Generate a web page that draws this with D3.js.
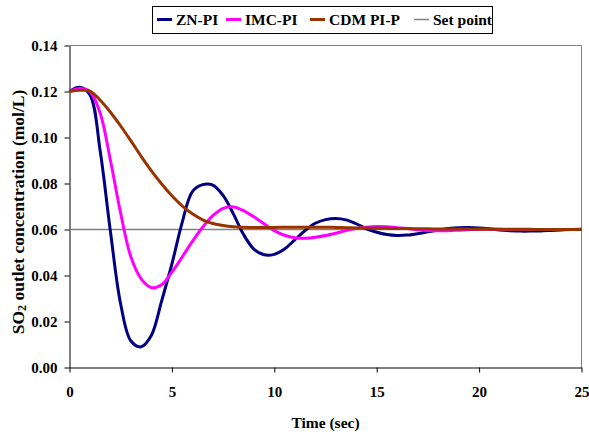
<!DOCTYPE html>
<html>
<head>
<meta charset="utf-8">
<script src="https://cdn.jsdelivr.net/npm/d3@7/dist/d3.min.js"></script>
<style>
	html, body { margin: 0; padding: 0; background: #fff; }
	svg { display: block; }
</style>
</head>
<body>
<div id="chart"></div>
<script>
// time samples (sec)
let time = [0, 0.5, 1, 1.5, 2, 2.5, 3, 3.5, 4, 4.5, 5, 5.5, 6, 6.5, 7, 7.5, 8, 8.5, 9, 9.5,
	10, 10.5, 11, 11.5, 12, 12.5, 13, 13.5, 14, 14.5, 15, 15.5, 16, 16.5, 17, 17.5, 18, 18.5, 19, 19.5,
	20, 20.5, 21, 21.5, 22, 22.5, 23, 23.5, 24, 24.5, 25]

let znPI = [0.1200, 0.1218, 0.1185, 0.0940, 0.0590, 0.0275, 0.0115, 0.0090, 0.0140, 0.0290,
	0.0450, 0.0630, 0.0765, 0.0795, 0.0793, 0.0748, 0.0668, 0.0578, 0.0515, 0.0490,
	0.0492, 0.0515, 0.0555, 0.0595, 0.0627, 0.0643, 0.0648, 0.0642, 0.0625, 0.0603,
	0.0588, 0.0578, 0.0574, 0.0576, 0.0582, 0.0590, 0.0598, 0.0604, 0.0608, 0.0609,
	0.0607, 0.0603, 0.0598, 0.0595, 0.0593, 0.0593, 0.0594, 0.0596, 0.0598, 0.0600, 0.0601]

let imcPI = [0.1200, 0.1213, 0.1200, 0.1105, 0.0900, 0.0670, 0.0480, 0.0385, 0.0347, 0.0360,
	0.0415, 0.0480, 0.0548, 0.0610, 0.0660, 0.0692, 0.0698, 0.0682, 0.0655, 0.0625,
	0.0595, 0.0575, 0.0564, 0.0562, 0.0566, 0.0574, 0.0584, 0.0595, 0.0604, 0.0610,
	0.0613, 0.0612, 0.0608, 0.0604, 0.0599, 0.0596, 0.0595, 0.0595, 0.0597, 0.0599,
	0.0601, 0.0601, 0.0601, 0.0600, 0.0600, 0.0600, 0.0600, 0.0600, 0.0600, 0.0600, 0.0600]

let cdmPIP = [0.1200, 0.1205, 0.1202, 0.1162, 0.1110, 0.1050, 0.0985, 0.0918, 0.0855, 0.0798,
	0.0747, 0.0703, 0.0668, 0.0642, 0.0626, 0.0617, 0.0612, 0.0610, 0.0609, 0.0609,
	0.0609, 0.0610, 0.0610, 0.0610, 0.0610, 0.0610, 0.0609, 0.0608, 0.0607, 0.0606,
	0.0605, 0.0605, 0.0604, 0.0604, 0.0603, 0.0603, 0.0602, 0.0602, 0.0602, 0.0602,
	0.0601, 0.0601, 0.0601, 0.0601, 0.0601, 0.0601, 0.0600, 0.0600, 0.0600, 0.0600, 0.0600]

let setTime = [0, 25]
let setPoint = [0.06, 0.06]

let xTicks = [0, 5, 10, 15, 20, 25]
let yTicks = [0, 0.02, 0.04, 0.06, 0.08, 0.10, 0.12, 0.14]

let series = [
	{name: "ZN-PI", values: znPI, color: "#000080", width: 3},
	{name: "IMC-PI", values: imcPI, color: "#ff00ff", width: 3},
	{name: "CDM PI-P", values: cdmPIP, color: "#993300", width: 3}
]

let font = '"Liberation Serif", "Times New Roman", Times, serif'
let dims = {width: 589, height: 436, left: 69.5, right: 581.5, top: 45.5, bottom: 367.5}

let svg = d3.select("#chart").append("svg")
	.attr("width", dims.width)
	.attr("height", dims.height)
	.style("font-family", font)
	.style("font-weight", "bold")

let xScale = d3.scaleLinear().domain([0, 25]).range([dims.left, dims.right])
let yScale = d3.scaleLinear().domain([0, 0.14]).range([dims.bottom, dims.top])

// plot area frame (grey top/right)
svg.append("path")
	.attr("d", `M${dims.left},${dims.top}H${dims.right}V${dims.bottom}`)
	.attr("fill", "none")
	.attr("stroke", "#808080")
	.attr("stroke-width", 1)

let xAxis = svg.append("g")
	.attr("transform", `translate(0,${dims.bottom})`)
	.call(d3.axisBottom(xScale).tickValues(xTicks).tickFormat(d3.format("d")).tickSize(5).tickSizeOuter(0))
xAxis.selectAll("text").attr("dy", null).attr("y", 29)

let yAxis = svg.append("g")
	.attr("transform", `translate(${dims.left},0)`)
	.call(d3.axisLeft(yScale).tickValues(yTicks).tickFormat(d3.format(".2f")).tickSize(5).tickSizeOuter(0))
yAxis.selectAll("text").attr("x", -12).attr("dy", "0.35em")

svg.selectAll("g").attr("font-family", null).attr("font-size", null)
svg.selectAll(".domain, .tick line").attr("stroke", "#000")
svg.selectAll(".tick text")
	.style("font-family", font)
	.style("font-weight", "bold")
	.style("font-size", "15px")
	.attr("fill", "#000")

let line = d3.line()
	.x((d, i) => xScale(time[i]))
	.y(d => yScale(d))
	.curve(d3.curveCatmullRom)

// set point
svg.append("path")
	.datum(setPoint)
	.attr("fill", "none")
	.attr("stroke", "#808080")
	.attr("stroke-width", 1.5)
	.attr("d", d3.line().x((d, i) => xScale(setTime[i])).y(d => yScale(d)))

svg.selectAll("path.series")
	.data(series)
	.enter()
		.append("path")
		.classed("series", true)
		.attr("fill", "none")
		.attr("stroke", d => d.color)
		.attr("stroke-width", d => d.width)
		.attr("stroke-linejoin", "round")
		.attr("d", d => line(d.values))

// axis titles
svg.append("text")
	.attr("x", (dims.left + dims.right) / 2)
	.attr("y", 428)
	.attr("text-anchor", "middle")
	.style("font-family", font)
	.style("font-size", "15.5px")
	.text("Time (sec)")

let yTitle = svg.append("text")
	.attr("transform", `translate(24,212) rotate(-90)`)
	.attr("text-anchor", "middle")
	.style("font-family", font)
	.style("font-size", "17.5px")
yTitle.append("tspan").text("SO")
yTitle.append("tspan").style("font-size", "12px").attr("dy", 2).text("2")
yTitle.append("tspan").attr("dy", -2).text(" outlet concentration (mol/L)")

// legend
let legendItems = [
	{name: "ZN-PI", color: "#000080", width: 3, x: 157},
	{name: "IMC-PI", color: "#ff00ff", width: 3, x: 226},
	{name: "CDM PI-P", color: "#993300", width: 3, x: 310},
	{name: "Set point", color: "#808080", width: 1.5, x: 414}
]

let legend = svg.append("g").classed("legend", true)
legend.append("rect")
	.attr("x", 152.5).attr("y", 6.5)
	.attr("width", 340).attr("height", 27)
	.attr("fill", "#fff")
	.attr("stroke", "#000")

let li = legend.selectAll("g.item")
	.data(legendItems)
	.enter()
		.append("g")
		.classed("item", true)
li.append("line")
	.attr("x1", d => d.x).attr("x2", d => d.x + 15)
	.attr("y1", 19.5).attr("y2", 19.5)
	.attr("stroke", d => d.color)
	.attr("stroke-width", d => d.width)
li.append("text")
	.attr("x", d => d.x + 19)
	.attr("y", 25)
	.style("font-family", font)
	.style("font-size", "15.5px")
	.text(d => d.name)
</script>
</body>
</html>
